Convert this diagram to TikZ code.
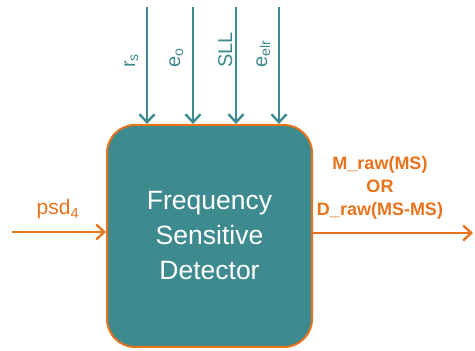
\documentclass[tikz,border=0pt]{standalone}
\usepackage{fontspec}
\setmainfont{Liberation Sans}
\usetikzlibrary{calc, arrows.meta, positioning}
\definecolor{fsdteal}{HTML}{3D8A8F}
\definecolor{fsdorange}{HTML}{E8731C}

\begin{document}
\begin{tikzpicture}[x=1pt, y=1pt,
	detector/.style={draw=fsdorange, line width=2pt, fill=fsdteal, rounded corners=28pt,
		minimum width=205pt, minimum height=222pt, inner sep=0pt, align=center,
		text=white, font=\fontsize{26.5}{35}\selectfont},
	paramin/.style={draw=fsdteal, line width=2.6pt, -{Straight Barb[length=8pt, width=15pt, line width=2.4pt]}},
	flow/.style={draw=fsdorange, line width=2.6pt, -{Straight Barb[length=8pt, width=15pt, line width=2.4pt]}},
	paramlabel/.style={rotate=90, anchor=base west, inner sep=0pt, text=fsdteal, font=\fontsize{20}{24}\selectfont},
	flowlabel/.style={text=fsdorange, align=center, inner sep=0pt}]
	\useasboundingbox (0,0) rectangle (475,351);
	\node[detector] (fsd) at (209.5,115) {Frequency\\Sensitive\\Detector};
	% parameter inputs from the top
	\foreach \x/\lx/\name/\lab in {147/135/rs/r\textsubscript{s}, 193/180/eo/e\textsubscript{o},
		236/232/sll/SLL, 279/267/eelr/e\textsubscript{elr}}{
		\coordinate (\name) at (\x,344);
		\draw[paramin] (\name) -- (\name |- fsd.north);
		\node[paramlabel] (\name label) at (\lx,283) {\lab};
	}
	\coordinate (in) at (12,119);
	\coordinate (out) at (473,118);
	\draw[flow] (in) -- (in -| fsd.west);
	\draw[flow] (fsd.east |- out) -- (out);
	\node[flowlabel, font=\fontsize{21}{24}\selectfont, anchor=base] (psd) at (58,136) {psd\textsubscript{4}};
	\node[flowlabel, font=\bfseries\fontsize{18}{23}\selectfont] (result) at (380,163) {M\_raw(MS)\\OR\\D\_raw(MS-MS)};
\end{tikzpicture}
\end{document}
